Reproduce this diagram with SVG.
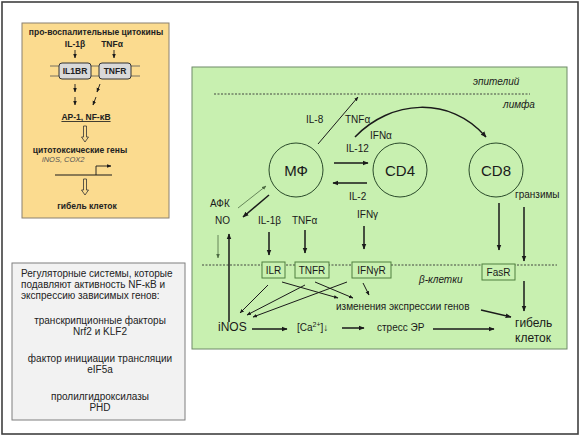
<svg xmlns="http://www.w3.org/2000/svg" width="580" height="436" viewBox="0 0 580 436">
<style>
text{font-family:"Liberation Sans",Arial,sans-serif;fill:#1a1a1a}
.y{font-size:8.5px;font-weight:bold;fill:#222}
.g{font-size:10px}
.it{font-style:italic}
.big{font-size:15px}
.mid{font-size:12px}
.gr{font-size:10px;fill:#222}
.ln{stroke:#1a1a1a;fill:none}
.thk{stroke-width:1.5}
.thn{stroke-width:1}
.pale{stroke:#4d6b42;stroke-width:0.8}
.dot{stroke:#333;stroke-width:0.9;stroke-dasharray:2 1.5;fill:none}
.cell{fill:none;stroke:#2a4a2a;stroke-width:1}
.rbox{fill:#c8f0b0;stroke:#4f7f3f;stroke-width:1}
.mbox{fill:#d9d9d9;stroke:#333;stroke-width:1}
.holl{fill:#fbdb8f;stroke:#333;stroke-width:0.8}
</style>
<defs>
<marker id="a" viewBox="0 0 10 10" refX="9" refY="5" markerWidth="6" markerHeight="6" markerUnits="userSpaceOnUse" orient="auto"><path d="M0,1 L10,5 L0,9 z" fill="#1a1a1a"/></marker>
<marker id="s" viewBox="0 0 10 10" refX="9" refY="5" markerWidth="4.5" markerHeight="4.5" markerUnits="userSpaceOnUse" orient="auto"><path d="M0,1 L10,5 L0,9 z" fill="#1a1a1a"/></marker>
<marker id="p" viewBox="0 0 10 10" refX="9" refY="5" markerWidth="4.5" markerHeight="4.5" markerUnits="userSpaceOnUse" orient="auto"><path d="M0,1 L10,5 L0,9 z" fill="#4d6b42"/></marker>
</defs>
<rect x="2" y="2" width="576" height="432" fill="#fff" stroke="#404040" stroke-width="1.6"/>

<g id="proinflammatory">
<rect x="22" y="23" width="147" height="195" fill="#fbdb8f" stroke="#8a8070" stroke-width="1"/>
<text class="y" x="96" y="35" text-anchor="middle">про-воспалительные цитокины</text>
<text class="y" x="75" y="47" text-anchor="middle">IL-1β</text>
<text class="y" x="112" y="47" text-anchor="middle">TNFα</text>
<line class="ln" stroke-width="0.9" x1="75" y1="50" x2="75" y2="58" marker-end="url(#s)"/>
<line class="ln" stroke-width="0.9" x1="114" y1="50" x2="114" y2="58" marker-end="url(#s)"/>
<line x1="50" y1="66" x2="140" y2="66" stroke="#555" stroke-width="0.8"/>
<line x1="50" y1="76" x2="140" y2="76" stroke="#555" stroke-width="0.8"/>
<rect class="mbox" x="59" y="63" width="32" height="16" rx="3"/>
<rect class="mbox" x="99" y="63" width="32" height="16" rx="3"/>
<text class="y" x="75" y="74" text-anchor="middle">IL1BR</text>
<text class="y" x="115" y="74" text-anchor="middle">TNFR</text>
<line class="ln" stroke-width="0.9" x1="75" y1="84" x2="75" y2="92" marker-end="url(#s)"/>
<line class="ln" stroke-width="0.9" x1="75" y1="97" x2="75" y2="105" marker-end="url(#s)"/>
<line class="ln" stroke-width="0.9" x1="100" y1="84" x2="97" y2="92" marker-end="url(#s)"/>
<line class="ln" stroke-width="0.9" x1="96" y1="97" x2="93" y2="105" marker-end="url(#s)"/>
<text class="y" x="86" y="120" text-anchor="middle" text-decoration="underline">AP-1, NF-κB</text>
<path class="holl" d="M83.5,126 H86.5 V137 H88.5 L85,142 L81.5,137 H83.5 z"/>
<text class="y" x="80" y="153" text-anchor="middle">цитотоксические гены</text>
<text x="42" y="162" font-size="7.5" font-style="italic" fill="#555" style="fill:#555">iNOS, COX2</text>
<line x1="55" y1="175" x2="112" y2="175" stroke="#1a1a1a" stroke-width="1.2"/>
<path class="ln" stroke-width="0.9" d="M96,175 V166 H111" marker-end="url(#s)"/>
<path class="holl" d="M83.5,179 H86.5 V190 H88.5 L85,195 L81.5,190 H83.5 z"/>
<text class="y" x="87" y="209" text-anchor="middle">гибель клеток</text>
</g>

<g id="regulatory">
<rect x="12" y="263" width="173" height="157" fill="#f2f2f2" stroke="#7f7f7f" stroke-width="1"/>
<text class="gr" x="21" y="277">Регуляторные системы, которые</text>
<text class="gr" x="21" y="288">подавляют активность NF-κB и</text>
<text class="gr" x="21" y="299">экспрессию зависимых генов:</text>
<text class="gr" x="100" y="324" text-anchor="middle">транскрипционные факторы</text>
<text class="gr" x="100" y="335" text-anchor="middle">Nrf2 и KLF2</text>
<text class="gr" x="100" y="362" text-anchor="middle">фактор инициации трансляции</text>
<text class="gr" x="100" y="373" text-anchor="middle">eIF5a</text>
<text class="gr" x="100" y="400" text-anchor="middle">пролилгидроксилазы</text>
<text class="gr" x="100" y="411" text-anchor="middle">PHD</text>
</g>

<g id="panel">
<rect x="192" y="67" width="375" height="282" fill="#c8f0b0" stroke="#6f8a68" stroke-width="1"/>
<line class="dot" x1="214" y1="94" x2="530" y2="94"/>
<line class="dot" x1="202" y1="265" x2="557" y2="265"/>
<text class="g it" x="473" y="85">эпителий</text>
<text class="g it" x="503" y="108">лимфа</text>
<text class="g it" x="419" y="283">β-клетки</text>
</g>

<g id="macrophage">
<circle class="cell" cx="296" cy="170" r="27"/>
<text class="big" x="296" y="176" text-anchor="middle">МФ</text>
</g>
<g id="cd4">
<circle class="cell" cx="400" cy="170" r="27"/>
<text class="big" x="400" y="176" text-anchor="middle">CD4</text>
</g>
<g id="cd8">
<circle class="cell" cx="496" cy="170" r="27"/>
<text class="big" x="496" y="176" text-anchor="middle">CD8</text>
</g>

<g id="receptor-ILR"><rect class="rbox" x="262" y="262" width="23" height="16"/><text class="g" x="273.5" y="274" text-anchor="middle">ILR</text></g>
<g id="receptor-TNFR"><rect class="rbox" x="295" y="262" width="34" height="16"/><text class="g" x="312" y="274" text-anchor="middle">TNFR</text></g>
<g id="receptor-IFNgR"><rect class="rbox" x="352" y="262" width="39" height="16"/><text class="g" x="371.5" y="274" text-anchor="middle">IFNγR</text></g>
<g id="receptor-FasR"><rect class="rbox" x="482" y="264" width="33" height="16"/><text class="g" x="498.5" y="276" text-anchor="middle">FasR</text></g>

<g id="labels">
<text class="g" x="306" y="123">IL-8</text>
<text class="g" x="345" y="123">TNFα</text>
<text class="g" x="370" y="139">IFNα</text>
<text class="g" x="346" y="152">IL-12</text>
<text class="g" x="349" y="200">IL-2</text>
<text class="g" x="357" y="218">IFNγ</text>
<text class="g" x="515" y="198">гранзимы</text>
<text class="g" x="210" y="207">АФК</text>
<text class="g" x="215" y="224">NO</text>
<text class="g" x="258" y="224">IL-1β</text>
<text class="g" x="292" y="224">TNFα</text>
</g>

<g id="outcomes">
<text class="mid" x="218" y="331">iNOS</text>
<text class="g" x="297" y="331">[Ca<tspan font-size="7" dy="-4">2+</tspan><tspan dy="4">]↓</tspan></text>
<text class="g" x="377" y="331">стресс ЭР</text>
<text class="g" x="336" y="310">изменения экспрессии генов</text>
<text class="mid" x="515" y="327">гибель</text>
<text class="mid" x="515" y="342">клеток</text>
</g>

<g id="connectors">
<line class="ln thn" x1="318" y1="144" x2="358" y2="97" marker-end="url(#s)"/>
<path class="ln thk" d="M355,137 C390,100 450,95 486,137" marker-end="url(#a)"/>
<line class="ln thk" x1="334" y1="163" x2="368" y2="163" marker-end="url(#a)"/>
<line class="ln thk" x1="367" y1="183" x2="333" y2="183" marker-end="url(#a)"/>
<line class="ln pale" x1="238" y1="208" x2="266" y2="186" marker-end="url(#p)"/>
<line class="ln thk" x1="269" y1="195" x2="243" y2="217" marker-end="url(#a)"/>
<line class="ln pale" x1="218" y1="235" x2="218" y2="258" marker-end="url(#p)"/>
<line class="ln thk" x1="229" y1="322" x2="229" y2="234" marker-end="url(#a)"/>
<line class="ln thk" x1="269" y1="232" x2="269" y2="255" marker-end="url(#a)"/>
<line class="ln thk" x1="305" y1="230" x2="305" y2="253" marker-end="url(#a)"/>
<line class="ln thk" x1="364" y1="226" x2="364" y2="249" marker-end="url(#a)"/>
<line class="ln thk" x1="499" y1="203" x2="499" y2="250" marker-end="url(#a)"/>
<line class="ln thk" x1="524" y1="207" x2="524" y2="261" marker-end="url(#a)"/>
<line class="ln thk" x1="524" y1="281" x2="524" y2="311" marker-end="url(#a)"/>
<line class="ln thk" x1="481" y1="310" x2="511" y2="317" marker-end="url(#a)"/>
<line class="ln thk" x1="433" y1="329" x2="494" y2="329" marker-end="url(#a)"/>
<line class="ln thk" x1="342" y1="328" x2="364" y2="328" marker-end="url(#a)"/>
<line class="ln thk" x1="252" y1="329" x2="287" y2="329" marker-end="url(#a)"/>
<line class="ln thn" x1="268" y1="285" x2="240" y2="313" marker-end="url(#s)"/>
<line class="ln thn" x1="282" y1="282" x2="338" y2="298" marker-end="url(#s)"/>
<line class="ln thn" x1="305" y1="285" x2="247" y2="315" marker-end="url(#s)"/>
<line class="ln thn" x1="315" y1="282" x2="353" y2="298" marker-end="url(#s)"/>
<line class="ln thn" x1="347" y1="282" x2="253" y2="317" marker-end="url(#s)"/>
<line class="ln thn" x1="363" y1="283" x2="369" y2="295" marker-end="url(#s)"/>
</g>
</svg>
